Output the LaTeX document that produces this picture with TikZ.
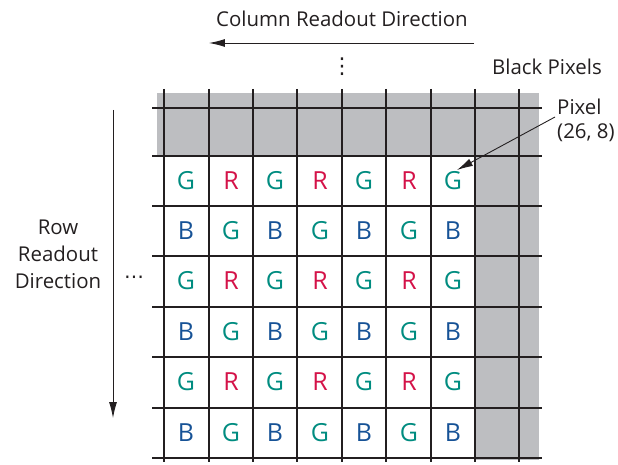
\documentclass[tikz,border=0pt]{standalone}
\usepackage{fontspec}
\setmainfont{Open Sans}
\newfontfamily\symfont{DejaVu Sans}
\usetikzlibrary{arrows.meta}
\definecolor{gG}{RGB}{0,140,128}
\definecolor{gR}{RGB}{212,18,72}
\definecolor{gB}{RGB}{22,82,150}
\definecolor{blk}{RGB}{189,190,193}
\definecolor{ink}{RGB}{35,31,32}
\tikzset{
  gridline/.style={ink, line width=2pt},
  lbl/.style={font=\fontsize{20.5}{24}\selectfont, text=ink, inner sep=0pt},
  cell/.style={font=\fontsize{25}{28}\selectfont, inner sep=0pt},
  ptr/.style={ink, line width=0.9pt, -{Latex[length=16pt,width=8pt]}},
}
\begin{document}
\begin{tikzpicture}[x=1bp,y=-1bp]
\useasboundingbox (0,0) rectangle (618,465);
% black pixel region
\fill[blk] (157,93) rectangle (539,460);
\fill[white] (157,156) rectangle (475,460);
% grid
\foreach \x in {164,209,253,297,342,386,431,475,519}
  \draw[gridline] (\x,89) -- (\x,462);
\foreach \y in {108,156,206,256,307,357,408,458}
  \draw[gridline] (152,\y) -- (542,\y);
% letters
\foreach \r/\yc in {1/181,2/231,3/281,4/332,5/382,6/433} {
  \foreach \c/\xc in {1/186,2/231,3/275,4/320,5/364,6/409,7/453} {
    \pgfmathtruncatemacro{\odd}{mod(\r,2)}
    \pgfmathtruncatemacro{\codd}{mod(\c,2)}
    \ifnum\odd=1
      \ifnum\codd=1
        \node[cell,text=gG] (c-\r-\c) at (\xc,\yc) {G};
      \else
        \node[cell,text=gR] (c-\r-\c) at (\xc,\yc) {R};
      \fi
    \else
      \ifnum\codd=1
        \node[cell,text=gB] (c-\r-\c) at (\xc,\yc) {B};
      \else
        \node[cell,text=gG] (c-\r-\c) at (\xc,\yc) {G};
      \fi
    \fi
  }
}
% column readout
\node[lbl] (coltitle) at (342,19) {Column Readout Direction};
\coordinate (colA) at (474,43);
\coordinate (colB) at (209,43);
\draw[ptr] (colA) -- (colB);
\node[lbl, font=\symfont\fontsize{22}{24}\selectfont] (vdots) at (342,67) {⋮};
\node[lbl] (blackpix) at (547,67) {Black Pixels};
% pixel label
\node[lbl, align=left, anchor=west] (pixlab) at (557,120) {Pixel\\(26, 8)};
\draw[ptr] (555,117) -- (457,170);
% row readout
\node[lbl, align=center, font=\fontsize{20.5}{27}\selectfont] (rowtitle) at (58,254) {Row\\Readout\\Direction};
\coordinate (rowA) at (113,110);
\coordinate (rowB) at (113,418);
\draw[ptr] (rowA) -- (rowB);
\node[lbl, font=\symfont\fontsize{20}{22}\selectfont] (hdots) at (134,280) {⋯};
\end{tikzpicture}
\end{document}
